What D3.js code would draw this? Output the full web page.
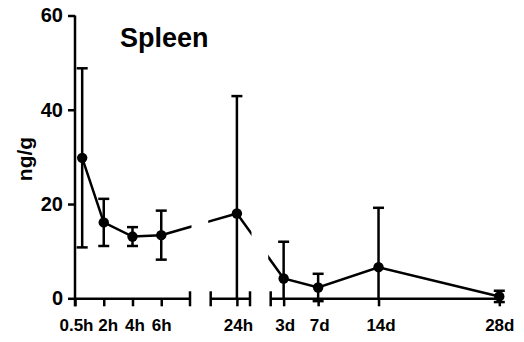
<!DOCTYPE html>
<html>
    <head>
        <title></title>
        <meta http-equiv="Content-Type" content="text/html; charset=UTF-8">
        <script src="https://d3js.org/d3.v7.min.js" charset="utf-8"></script>
        <style>
            body { margin: 0; background: #fff; }
            text { font-family: "Liberation Sans", Arial, sans-serif; font-weight: bold; fill: #000; }
        </style>
    </head>
    <body>
        <div id="svgcontainer"></div>
        <script>

            // Data
            var labels = ["0.5h", "2h", "4h", "6h", "24h", "3d", "7d", "14d", "28d"];
            // which piece of the broken x axis each time point sits on
            var segIndex = [0, 0, 0, 0, 1, 2, 2, 2, 2];
            // position inside its piece (hours for the first two, days for the last)
            var segValue = [0.5, 2, 4, 6, 24, 3, 7, 14, 28];
            var means = [29.8, 16.1, 13.1, 13.4, 18.0, 4.2, 2.3, 6.6, 0.4];
            var sds = [19.0, 5.0, 2.0, 5.2, 24.9, 7.8, 2.9, 12.6, 1.2];
            var yTicks = [0, 20, 40, 60];
            var title = "Spleen";
            var yLabel = "ng/g";

            // Declarations
            var w = 524, h = 342;
            var capHalf = 5.5;
            var lineW = 2.5;

            var svg = d3.select("#svgcontainer")
                .append("svg")
                .attr("width", w)
                .attr("height", h);

            var y = d3.scaleLinear().domain([0, 60]).range([298.3, 15.5]);

            // three pieces of the x axis
            // (labelShift nudges crowded labels apart like the original)
            var segs = [
                { scale: d3.scaleLinear().domain([0, 8]).range([75, 190]),
                  ticks: [0, 2, 4, 6], tickLabels: ["0.5h", "2h", "4h", "6h"], labelShift: [1, 4, 2, 0],
                  capLeft: false, capRight: true },
                { scale: d3.scaleLinear().domain([22, 25]).range([210.7, 250]),
                  ticks: [24], tickLabels: ["24h"], labelShift: [1],
                  capLeft: true, capRight: true },
                { scale: d3.scaleLinear().domain([1.5, 28]).range([270.7, 499.3]),
                  ticks: [3, 7, 14, 28], tickLabels: ["3d", "7d", "14d", "28d"], labelShift: [1, 1, 2, 0],
                  capLeft: true, capRight: false }
            ];

            var pts = labels.map(function (d, i) {
                return {
                    label: d,
                    x: segs[segIndex[i]].scale(segValue[i]),
                    mean: means[i],
                    sd: sds[i]
                };
            });

            // y axis
            var yAxis = svg.append("g")
                .attr("transform", "translate(75,0)")
                .call(d3.axisLeft(y).tickValues(yTicks).tickSizeInner(7).tickSizeOuter(0).tickPadding(5));
            yAxis.selectAll("path, line").attr("stroke", "#000").attr("stroke-width", lineW);
            yAxis.selectAll("text").style("font-size", "20px").style("font-family", null);
            yAxis.select(".domain").attr("d", "M0," + y(60) + "V" + (y(0) + 8));

            // x axis pieces
            segs.forEach(function (s) {
                var g = svg.append("g")
                    .attr("transform", "translate(0," + y(0) + ")")
                    .call(d3.axisBottom(s.scale)
                        .tickValues(s.ticks)
                        .tickSizeInner(8)
                        .tickSizeOuter(0)
                        .tickPadding(13)
                        .tickFormat(function (d, i) { return s.tickLabels[i]; }));
                g.selectAll("path, line").attr("stroke", "#000").attr("stroke-width", lineW);
                g.selectAll("text")
                    .style("font-size", "17px")
                    .style("font-family", null)
                    .attr("dx", function (d, i) { return s.labelShift[i]; });
                var r = s.scale.range();
                if (s.capLeft) {
                    g.append("line").attr("x1", r[0]).attr("x2", r[0]).attr("y1", -7).attr("y2", 8)
                        .attr("stroke", "#000").attr("stroke-width", lineW);
                }
                if (s.capRight) {
                    g.append("line").attr("x1", r[1]).attr("x2", r[1]).attr("y1", -7).attr("y2", 8)
                        .attr("stroke", "#000").attr("stroke-width", lineW);
                }
            });

            // clip rects so the connecting line breaks at the gaps
            var defs = svg.append("defs");
            segs.forEach(function (s, i) {
                var r = s.scale.range();
                defs.append("clipPath").attr("id", "clip" + i)
                    .append("rect")
                    .attr("x", r[0] - 2.5)
                    .attr("y", 0)
                    .attr("width", r[1] - r[0] + 4)
                    .attr("height", h);
            });

            var line = d3.line()
                .x(function (d) { return d.x; })
                .y(function (d) { return y(d.mean); });

            segs.forEach(function (s, i) {
                svg.append("path")
                    .datum(pts)
                    .attr("clip-path", "url(#clip" + i + ")")
                    .attr("d", line)
                    .attr("fill", "none")
                    .attr("stroke", "#000")
                    .attr("stroke-width", lineW);
            });

            // error bars (below the axis they are cut at zero, no cap)
            var err = svg.selectAll(".err")
                .data(pts)
                .enter()
                .append("g")
                .attr("class", "err");

            err.append("line")
                .attr("x1", function (d) { return d.x; })
                .attr("x2", function (d) { return d.x; })
                .attr("y1", function (d) { return y(d.mean + d.sd); })
                .attr("y2", function (d) {
                    var lo = d.mean - d.sd;
                    return y(lo < -2 ? 0 : lo);
                })
                .attr("stroke", "#000")
                .attr("stroke-width", lineW);

            err.append("line")
                .attr("x1", function (d) { return d.x - capHalf; })
                .attr("x2", function (d) { return d.x + capHalf; })
                .attr("y1", function (d) { return y(d.mean + d.sd); })
                .attr("y2", function (d) { return y(d.mean + d.sd); })
                .attr("stroke", "#000")
                .attr("stroke-width", lineW);

            err.filter(function (d) { return d.mean - d.sd >= -2; })
                .append("line")
                .attr("x1", function (d) { return d.x - capHalf; })
                .attr("x2", function (d) { return d.x + capHalf; })
                .attr("y1", function (d) { return y(d.mean - d.sd); })
                .attr("y2", function (d) { return y(d.mean - d.sd); })
                .attr("stroke", "#000")
                .attr("stroke-width", lineW);

            // markers
            svg.selectAll(".dot")
                .data(pts)
                .enter()
                .append("circle")
                .attr("class", "dot")
                .attr("cx", function (d) { return d.x; })
                .attr("cy", function (d) { return y(d.mean); })
                .attr("r", 5.2)
                .attr("fill", "#000");

            // title and y label
            svg.append("text")
                .attr("x", 120)
                .attr("y", 46.5)
                .style("font-size", "27px")
                .text(title);

            svg.append("text")
                .attr("transform", "translate(32,159) rotate(-90)")
                .attr("text-anchor", "middle")
                .style("font-size", "21px")
                .text(yLabel);

        </script>
    </body>
</html>
